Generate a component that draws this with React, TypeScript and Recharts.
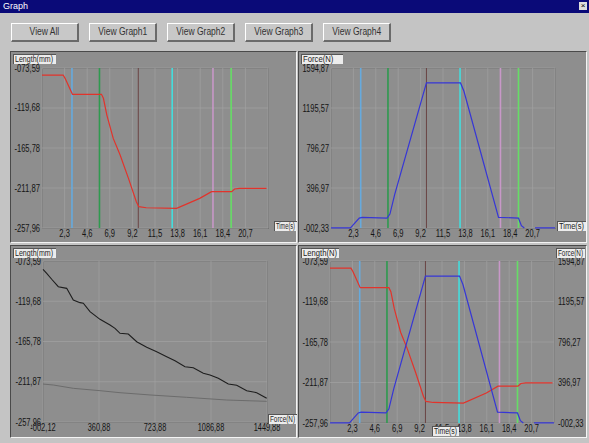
import React from 'react';
import { LineChart, Line, XAxis, YAxis, CartesianGrid, ReferenceLine } from 'recharts';

// length (mm) vs time (s) — red trace
const lengthTime = [0, 2.15, 2.35, 3.1, 6.05, 6.25, 6.6, 7.25, 7.95, 8.8, 9.6, 9.85, 10.6, 13.7, 16.05, 17.25, 19.3, 19.6, 20.1, 22.85];
const lengthVal = [-81.7, -81.7, -85.5, -103.9, -103.9, -108.5, -127.8, -154.7, -173.9, -200.8, -227.7, -233.4, -234.6, -235.3, -223.8, -216.1, -216.1, -213.0, -212.3, -212.3];

// force (N) vs time (s) — blue trace, null = gap in the trace
const forceTime = [0, 2.0, 2.9, 3.2, 5.75, 6.05, 6.55, 9.8, 13.3, 13.65, 17.2, 19.25, 19.55, 19.85, 20.4, 20.95, 23.0];
const forceVal = [-2, -2, 97, 104, 97, 137, 336, 1446, 1446, 1363, 104, 97, 21, -2, null, -2, -2];

// length vs force — dark trace and gray trace
const lfForce = [-2, 21.9, 54.3, 97.1, 151.5, 194.3, 237.7, 259.1, 302.5, 367.4, 432.2, 464.6, 497.0, 550.8, 605.2, 670.0, 734.9, 799.7, 853.5, 918.3, 972.1, 1036.9, 1080.3, 1134.2, 1199.0, 1253.5, 1318.3, 1383.1, 1448];
const lfLength = [-83.1, -87.7, -94.5, -103.0, -104.9, -118.3, -121.3, -122.0, -131.6, -140.4, -146.9, -150.7, -156.4, -157.2, -166.0, -172.4, -177.5, -183.2, -187.8, -194.6, -195.8, -202.2, -204.1, -207.9, -214.5, -215.9, -222.1, -224.4, -230.8];
const lfForce2 = [-2, 64.6, 194.3, 367.4, 497.0, 691.6, 929.3, 1188.6, 1448];
const lfLength2 = [-214.5, -215.6, -219.4, -222.1, -224.4, -227.0, -229.7, -232.8, -234.3];

// event markers (s)
const eventTimes = [3.05, 5.85, 9.8, 13.25, 17.4, 19.25];
const eventColors = ['#66aadd', '#2f9a4f', '#6a4444', '#44dddd', '#c898c8', '#66dd66'];

// axis ticks
const lengthTicks = [-257.96, -211.87, -165.78, -119.68, -73.59];
const forceTicks = [-2.33, 396.97, 796.27, 1195.57, 1594.87];
const forceXTicks = [-2.12, 360.88, 723.88, 1086.88, 1449.88];
const timeTicks = [2.3, 4.6, 6.9, 9.2, 11.5, 13.8, 16.1, 18.4, 20.7];

const buttons = ['View All', 'View Graph1', 'View Graph2', 'View Graph3', 'View Graph4'];

const lengthData = lengthTime.map((t, i) => ({ t, v: lengthVal[i] }));
const forceData = forceTime.map((t, i) => ({ t, v: forceVal[i] }));
const lfData = lfForce.map((f, i) => ({ f, v: lfLength[i] }));
const lfData2 = lfForce2.map((f, i) => ({ f, v: lfLength2[i] }));

const FONT = '"Liberation Sans", Arial, sans-serif';
const PANEL = '#8e8e8e';

const fmt = (v: number) => {
  const [a, b] = Math.abs(v).toFixed(2).split('.');
  return (v < 0 ? '-' : '') + a.padStart(3, '0') + ',' + b;
};
const fmtT = (v: number) => v.toFixed(1).replace('.', ',');

// squeeze text to the narrow bitmap-font width of the original
const narrowLen = (s: string) =>
  s.split('').reduce((w, c) => w + (c === ',' || c === '.' ? 2.5 : c === '-' ? 3 : /[0-9]/.test(c) ? 4 : 4.2), 0);

const Tick = ({ x, y, payload, textAnchor, fmtFn, dy }: any) => {
  const s = fmtFn(payload.value);
  return (
    <text x={x} y={y} dy={dy} textAnchor={textAnchor} fontSize={10} fill="#151515" fontFamily={FONT}
      textLength={narrowLen(s)} lengthAdjust="spacingAndGlyphs">{s}</text>
  );
};

const Box = ({ left, top, w, text }: any) => (
  <div style={{ position: 'absolute', left, top, width: w, height: 10, background: '#ececec', borderTop: '1px solid #555', borderLeft: '1px solid #555', boxSizing: 'border-box' }}>
    <svg width={w} height={10} style={{ position: 'absolute', left: -1, top: -1 }}>
      <text x={2} y={8} fontSize={8.5} fill="#222" fontFamily={FONT}
        textLength={Math.min(w - 4, text.length * 3.8)} lengthAdjust="spacingAndGlyphs">{text}</text>
    </svg>
  </div>
);

const Panel = ({ left, top, w, h, children }: any) => (
  <div style={{ position: 'absolute', left, top, width: w, height: h, background: PANEL, borderTop: '1px solid #4a4a4a', borderLeft: '1px solid #4a4a4a', borderRight: '1px solid #f4f4f4', borderBottom: '1px solid #f4f4f4', boxSizing: 'border-box' }}>
    {children}
  </div>
);

const Frame = ({ left, top, w, h }: any) => (
  <div style={{ position: 'absolute', left, top, width: w, height: h, border: '1px solid #747474', boxSizing: 'border-box' }} />
);

const events = (yAxisId?: string) =>
  eventTimes.map((t, i) => (
    <ReferenceLine key={i} x={t} yAxisId={yAxisId} stroke={eventColors[i]} strokeWidth={i === 2 ? 1 : 1.6} ifOverflow="hidden" />
  ));

const yTick = <Tick fmtFn={fmt} dy={3.5} />;
const xTimeTick = <Tick fmtFn={fmtT} dy={8} />;
const xForceTick = <Tick fmtFn={fmt} dy={8} />;

const timeAxis = (
  <XAxis type="number" dataKey="t" domain={[0, 23]} ticks={timeTicks} interval={0}
    tick={xTimeTick} tickLine={false} axisLine={false} tickSize={0} tickMargin={1} height={15} allowDataOverflow />
);

export default function App() {
  return (
    <div style={{ position: 'absolute', left: 0, top: 0, width: 589, height: 443, background: '#c4c4c4', overflow: 'hidden', fontFamily: FONT }}>
      {/* title bar */}
      <div style={{ position: 'absolute', left: 0, top: 0, width: 589, height: 13, background: '#0a0a78', color: '#fff', fontSize: 9, lineHeight: '13px', paddingLeft: 3, boxSizing: 'border-box' }}>Graph</div>
      <div style={{ position: 'absolute', left: 579, top: 2, width: 8, height: 8, background: '#ddd', color: '#000', fontSize: 8, lineHeight: '8px', textAlign: 'center' }}>×</div>

      {buttons.map((b, i) => (
        <div key={b} style={{ position: 'absolute', left: 11 + i * 78, top: 23, width: 68, height: 19, background: '#c8c8c8', borderTop: '1px solid #fff', borderLeft: '1px solid #fff', borderRight: '2px solid #6a6a6a', borderBottom: '2px solid #6a6a6a', boxSizing: 'border-box', fontSize: 10, lineHeight: '16px', textAlign: 'center', color: '#333' }}>
          <span style={{ display: 'inline-block', transform: 'scaleX(0.85)' }}>{b}</span>
        </div>
      ))}

      {/* Graph 1: length vs time */}
      <Panel left={10} top={51} w={287} h={192}>
        <Frame left={31} top={16} w={227} h={161} />
        <div style={{ position: 'absolute', left: -1, top: -1 }}>
          <LineChart width={287} height={192} margin={{ top: 17, right: 29, bottom: 0, left: 0 }}>
            <CartesianGrid stroke="#a2a2a2" strokeWidth={0.7} />
            {timeAxis}
            <YAxis type="number" domain={[-257.96, -73.59]} ticks={lengthTicks} interval={0}
              tick={yTick} tickLine={false} axisLine={false} tickSize={0} tickMargin={2} width={32} />
            {events()}
            <Line data={lengthData} dataKey="v" stroke="#e2332b" strokeWidth={1.2} dot={false} isAnimationActive={false} />
          </LineChart>
        </div>
        <Box left={2} top={2} w={43} text="Length(mm)" />
        <Box left={263} top={169} w={23} text="Time(s)" />
      </Panel>

      {/* Graph 2: force vs time */}
      <Panel left={298} top={51} w={289} h={192}>
        <Frame left={32} top={16} w={225} h={161} />
        <div style={{ position: 'absolute', left: -1, top: -1 }}>
          <LineChart width={289} height={192} margin={{ top: 17, right: 32, bottom: 0, left: 0 }}>
            <CartesianGrid stroke="#a2a2a2" strokeWidth={0.7} />
            {timeAxis}
            <YAxis type="number" domain={[-2.33, 1594.87]} ticks={forceTicks} interval={0}
              tick={yTick} tickLine={false} axisLine={false} tickSize={0} tickMargin={2} width={33} />
            {events()}
            <Line data={forceData} dataKey="v" stroke="#3636d6" strokeWidth={1.2} dot={false} isAnimationActive={false} />
          </LineChart>
        </div>
        <Box left={2} top={2} w={42} text="Force(N)" />
        <Box left={258} top={169} w={29} text="Time(s)" />
      </Panel>

      {/* Graph 3: length vs force */}
      <Panel left={10} top={245} w={287} h={193}>
        <Frame left={32} top={15} w={225} h={162} />
        <div style={{ position: 'absolute', left: -1, top: -1 }}>
          <LineChart width={287} height={193} margin={{ top: 16, right: 30, bottom: 0, left: 0 }}>
            <CartesianGrid stroke="#a2a2a2" strokeWidth={0.7} />
            <XAxis type="number" dataKey="f" domain={[-2.12, 1449.88]} ticks={forceXTicks} interval={0}
              tick={xForceTick} tickLine={false} axisLine={false} tickSize={0} tickMargin={1} height={16} />
            <YAxis type="number" domain={[-257.96, -73.59]} ticks={lengthTicks} interval={0}
              tick={yTick} tickLine={false} axisLine={false} tickSize={0} tickMargin={2} width={33} />
            <Line data={lfData2} dataKey="v" stroke="#6c6c6c" strokeWidth={1} dot={false} isAnimationActive={false} />
            <Line data={lfData} dataKey="v" stroke="#1e1e1e" strokeWidth={1.1} dot={false} isAnimationActive={false} />
          </LineChart>
        </div>
        <Box left={2} top={2} w={43} text="Length(mm)" />
        <Box left={257} top={168} w={29} text="Force(N)" />
      </Panel>

      {/* Graph 4: length + force vs time */}
      <Panel left={298} top={245} w={289} h={193}>
        <Frame left={31} top={15} w={225} h={162} />
        <div style={{ position: 'absolute', left: -1, top: -1 }}>
          <LineChart width={289} height={193} margin={{ top: 16, right: 0, bottom: 0, left: 0 }}>
            <CartesianGrid yAxisId="len" stroke="#a2a2a2" strokeWidth={0.7} />
            {timeAxis}
            <YAxis yAxisId="len" type="number" domain={[-257.96, -73.59]} ticks={lengthTicks} interval={0}
              tick={yTick} tickLine={false} axisLine={false} tickSize={0} tickMargin={2} width={32} />
            <YAxis yAxisId="force" orientation="right" type="number" domain={[-2.33, 1594.87]} ticks={forceTicks} interval={0}
              tick={yTick} tickLine={false} axisLine={false} tickSize={0} tickMargin={4} width={33} />
            {events('len')}
            <Line yAxisId="len" data={lengthData} dataKey="v" stroke="#e2332b" strokeWidth={1.2} dot={false} isAnimationActive={false} />
            <Line yAxisId="force" data={forceData} dataKey="v" stroke="#3636d6" strokeWidth={1.2} dot={false} isAnimationActive={false} />
          </LineChart>
        </div>
        <Box left={2} top={2} w={38} text="Length(N)" />
        <Box left={257} top={2} w={29} text="Force(N)" />
        <Box left={133} top={180} w={27} text="Time(s)" />
      </Panel>
    </div>
  );
}
